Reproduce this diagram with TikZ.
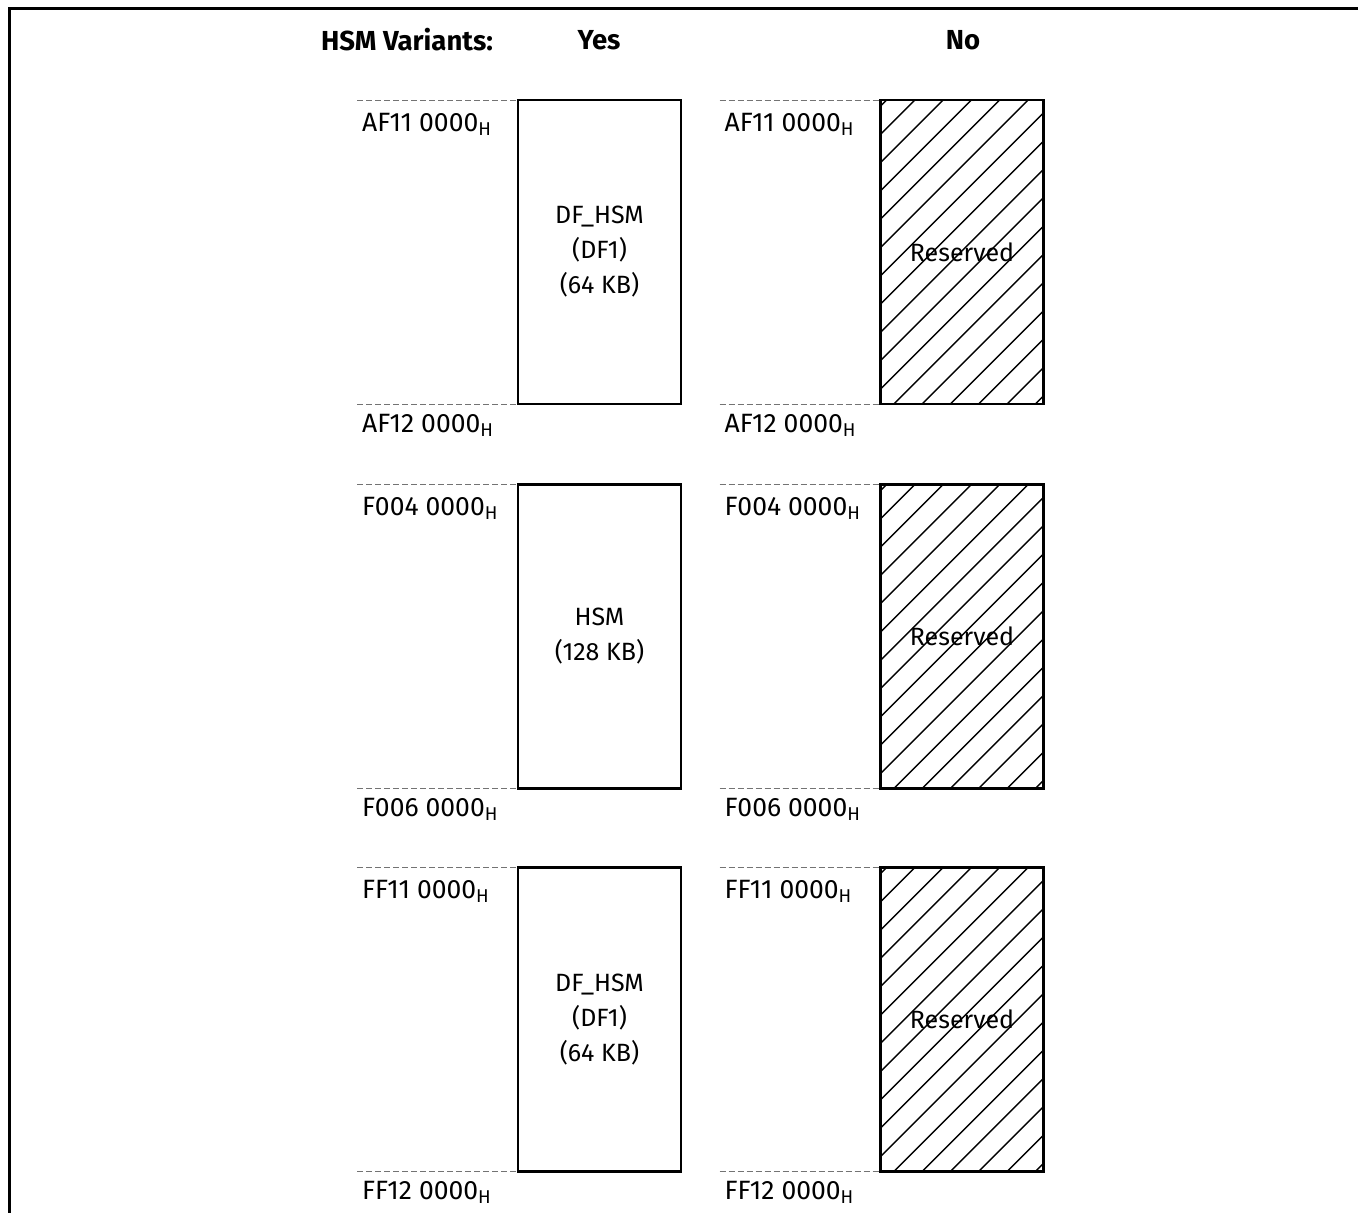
\documentclass[tikz,border=0pt]{standalone}
\usepackage{fontspec}
\setmainfont{Fira Sans}
\begin{document}
\begin{tikzpicture}[x=1pt,y=-1pt,
  txt/.style={font=\fontsize{25}{35}\selectfont, inner sep=0pt},
  hdr/.style={font=\fontsize{27.5}{35}\selectfont\bfseries, inner sep=0pt},
  membox/.style={draw, line width=2.7pt, minimum width=163pt, minimum height=304pt, inner sep=0pt, outer sep=0pt, align=center, font=\fontsize{25}{35}\selectfont},
  addr/.style={font=\fontsize{26.5}{35}\selectfont, inner sep=0pt, anchor=west},
  guide/.style={draw=black!55, line width=1pt, dash pattern=on 6pt off 3pt},
  hatch/.style={line width=1.4pt, black}
]
\useasboundingbox (0,0) rectangle (1358,1213);
% frame
\draw[line width=3.5pt] (9.5,1213) -- (9.5,8.5) -- (1358,8.5);
% headers
\node[hdr] (hv) at (407,40) {HSM Variants:};
\node[hdr] (hy) at (599,40) {Yes};
\node[hdr] (hn) at (963,40) {No};

% Yes column boxes
\node[membox] (y1) at (599.5,252) {DF\_HSM\\(DF1)\\(64 KB)};
\node[membox] (y2) at (599.5,636.5) {HSM\\(128 KB)};
\node[membox] (y3) at (599.5,1019.5) {DF\_HSM\\(DF1)\\(64 KB)};
% No column boxes with hatching
\foreach \n/\yc in {n1/252, n2/636.5, n3/1019.5}{
  \node[membox, draw=none] (\n) at (962,\yc) {};
  \begin{scope}
    \clip (\n.north west) rectangle (\n.south east);
    \foreach \k in {0,...,17}{
      \pgfmathsetmacro{\dx}{6+28.3*\k}
      \draw[hatch] ([xshift=\dx pt]\n.north west) -- ++(-480,480);
    }
  \end{scope}
  \draw[line width=2.7pt] (\n.north west) rectangle (\n.south east);
  \node[txt] at (\n.center) {Reserved};
}

% guides and address labels
\foreach \b/\lo/\hi in {y1/AF11/AF12, y2/F004/F006, y3/FF11/FF12, n1/AF11/AF12, n2/F004/F006, n3/FF11/FF12}{
  \coordinate (\b gt) at ([xshift=-161pt]\b.north west);
  \coordinate (\b gb) at ([xshift=-161pt]\b.south west);
  \draw[guide] (\b gt) -- (\b.north west);
  \draw[guide] (\b gb) -- (\b.south west);
  \node[addr] (\b lt) at ([xshift=5pt,yshift=-24pt]\b gt) {\lo\ 0000\textsubscript{H}};
  \node[addr] (\b lb) at ([xshift=5pt,yshift=-21pt]\b gb) {\hi\ 0000\textsubscript{H}};
}
\end{tikzpicture}
\end{document}
